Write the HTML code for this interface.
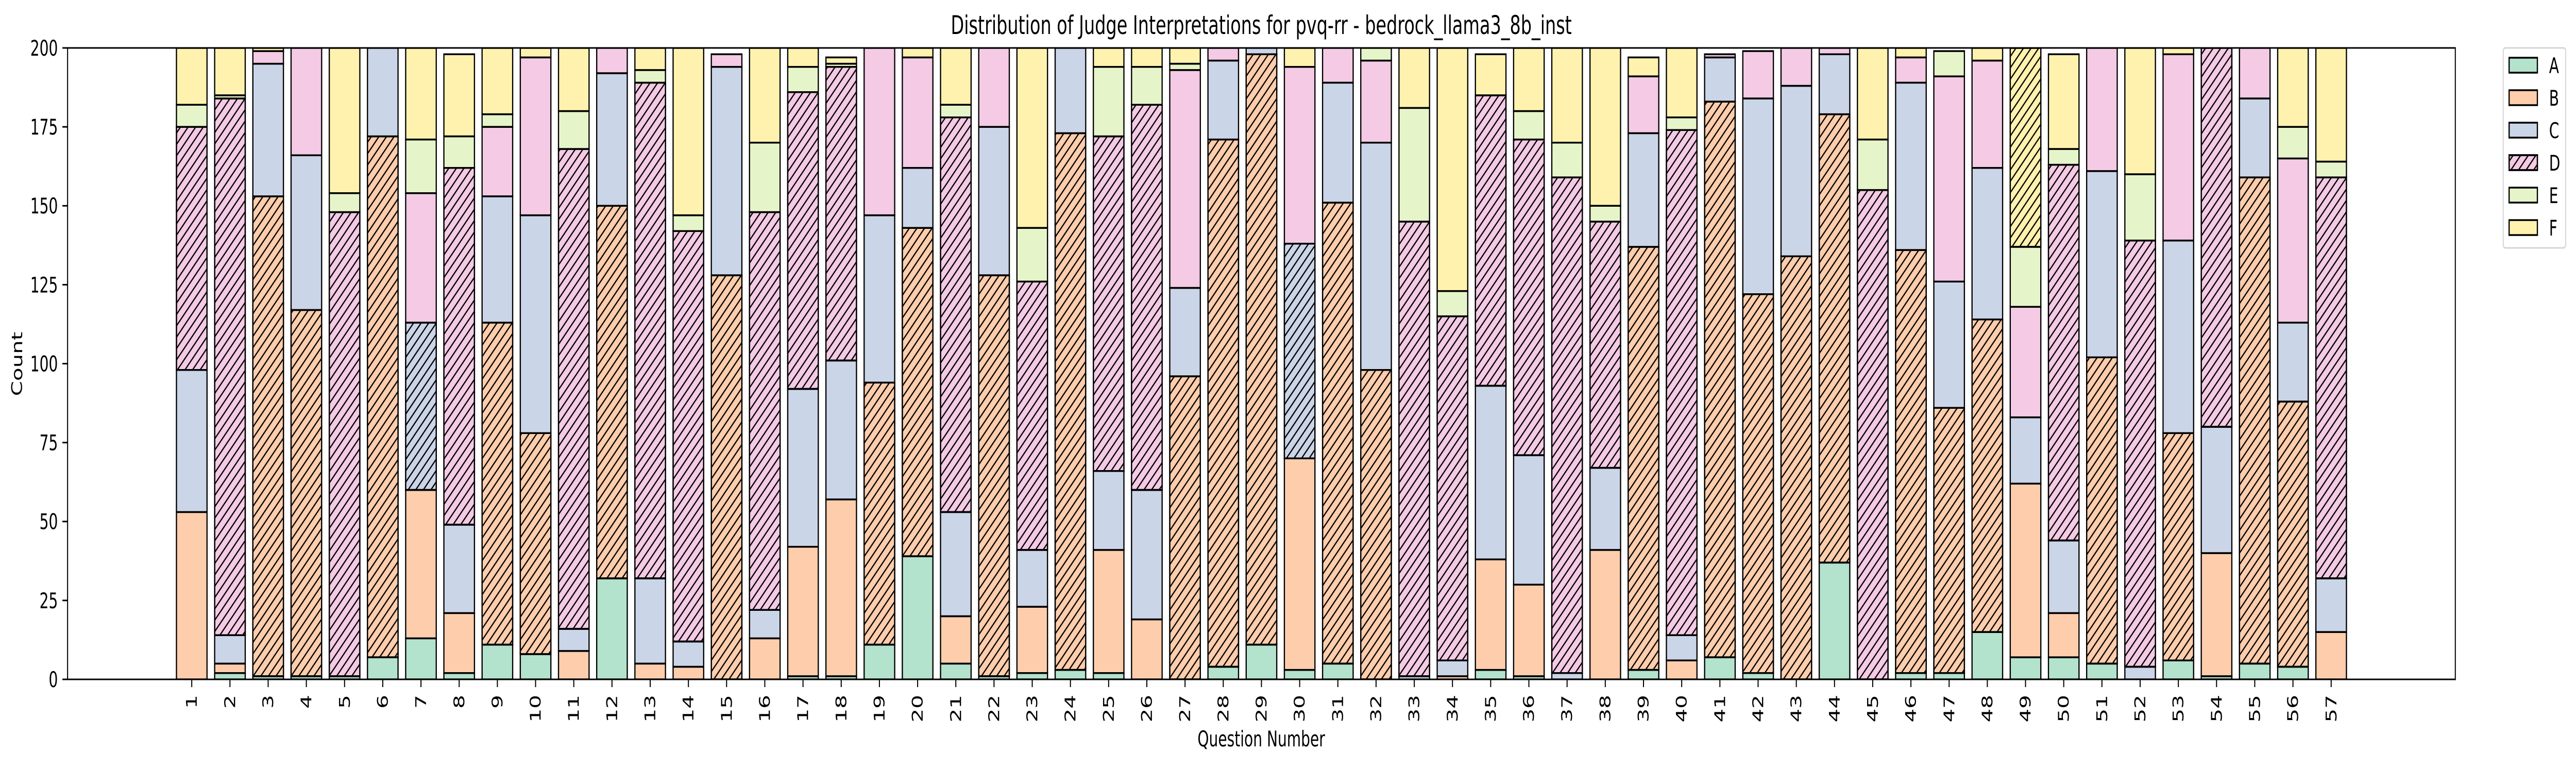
<!DOCTYPE html>
<html><head><meta charset="utf-8"><style>
html,body{margin:0;padding:0;background:#fff;overflow:hidden;width:100vw;height:100vh;}
svg{display:block;width:100vw;height:100vh;font-family:"DejaVu Sans","Liberation Sans",sans-serif;}
</style></head><body>
<svg id="chart" xmlns="http://www.w3.org/2000/svg" viewBox="0 0 7471 1488" preserveAspectRatio="none">
<defs>
<pattern id="hatch" patternUnits="userSpaceOnUse" width="22" height="22">
<path d="M-5.5,5.5 L5.5,-5.5 M0,22 L22,0 M16.5,27.5 L27.5,16.5" stroke="#000" stroke-width="3"/>
</pattern>
<clipPath id="plotclip"><rect x="196" y="93" width="6925" height="1225"/></clipPath>
</defs>
<rect x="0" y="0" width="7471" height="1488" fill="#fff"/>
<text x="3658" y="66" font-size="50" text-anchor="middle">Distribution of Judge Interpretations for pvq-rr - bedrock_llama3_8b_inst</text>
<g id="bars" clip-path="url(#plotclip)"></g>
<g id="axes"></g>
<rect x="196" y="93" width="6925" height="1225" fill="none" stroke="#000" stroke-width="3"/>
<text x="0" y="0" font-size="42" text-anchor="middle" transform="translate(64,706) rotate(-90)">Count</text>
<text x="3658" y="1448" font-size="42" text-anchor="middle">Question Number</text>
<g id="legend"></g>
</svg>
<script>
const categories = ["1","2","3","4","5","6","7","8","9","10","11","12","13","14","15","16","17","18","19","20","21","22","23","24","25","26","27","28","29","30","31","32","33","34","35","36","37","38","39","40","41","42","43","44","45","46","47","48","49","50","51","52","53","54","55","56","57"];
const seriesNames = ["A","B","C","D","E","F"];
const valsA = [0,2,1,1,1,7,13,2,11,8,0,32,0,0,0,0,1,1,11,39,5,1,2,3,2,0,0,4,11,3,5,0,0,0,3,1,0,0,3,0,7,2,0,37,0,2,2,15,7,7,5,0,6,1,5,4,0];
const valsB = [53,3,152,116,0,165,47,19,102,70,9,118,5,4,128,13,41,56,83,104,15,127,21,170,39,19,96,167,187,67,146,98,0,1,35,29,0,41,134,6,176,120,134,142,0,134,84,99,55,14,97,0,72,39,154,84,15];
const valsC = [45,9,42,49,0,28,53,28,40,69,7,42,27,8,66,9,50,44,53,19,33,47,18,27,25,41,28,25,2,68,38,72,1,5,55,41,2,26,36,8,14,62,54,19,0,53,40,48,21,23,59,4,61,40,25,25,17];
const valsD = [77,170,4,34,147,0,41,113,22,50,152,8,157,130,4,126,94,93,53,35,125,25,85,0,106,122,69,4,0,56,11,26,144,109,92,100,157,78,18,160,1,15,12,2,155,8,65,34,35,119,39,135,59,120,16,52,127];
const valsE = [7,1,0,0,6,0,17,10,4,0,12,0,4,5,0,22,8,1,0,0,4,0,17,0,22,12,2,0,0,0,0,4,36,8,0,9,11,5,0,4,0,0,0,0,16,0,8,0,19,5,0,21,0,0,0,10,5];
const valsF = [18,15,1,0,46,0,29,26,21,3,20,0,7,53,0,30,6,2,0,3,18,0,57,0,6,6,5,0,0,6,0,0,19,77,13,20,30,50,6,22,0,0,0,0,29,3,0,4,63,30,0,40,2,0,0,25,36];
const yTicks = [0,25,50,75,100,125,150,175,200];
const colors = ["#b3e2cd","#fdcdac","#cbd5e8","#f4cae4","#e6f5c9","#fff2ae"];

const NS = "http://www.w3.org/2000/svg";
const X0 = 196, X1 = 7121, Y0 = 1318, Y1 = 93;
const xMin = -3.25, xMax = categories.length - 1 + 3.25;
const yMin = 0, yMax = 200;
function xScale(i){ return X0 + (i - xMin) / (xMax - xMin) * (X1 - X0); }
function yScale(v){ return Y0 - (v - yMin) / (yMax - yMin) * (Y0 - Y1); }
const step = xScale(1) - xScale(0);
const barW = step * 0.8;

const series = [valsA, valsB, valsC, valsD, valsE, valsF];
const barsG = document.getElementById('bars');
const axesG = document.getElementById('axes');

for (let i = 0; i < categories.length; i++) {
  let maxIdx = 0;
  for (let s = 1; s < series.length; s++) if (series[s][i] > series[maxIdx][i]) maxIdx = s;
  let base = 0;
  const cx = xScale(i);
  for (let s = 0; s < series.length; s++) {
    const v = series[s][i];
    const yTop = yScale(base + v), yBot = yScale(base);
    const r = document.createElementNS(NS, 'rect');
    
    
    r.setAttribute('x', cx - barW / 2);
    r.setAttribute('y', yTop);
    r.setAttribute('width', barW);
    r.setAttribute('height', Math.max(0, yBot - yTop));
    r.setAttribute('fill', colors[s]);
    r.setAttribute('stroke', '#000');
    r.setAttribute('stroke-width', '3.5');
    barsG.appendChild(r);
    if (s === maxIdx && v > 0) {
      const h = document.createElementNS(NS, 'rect');
      
      
      h.setAttribute('x', cx - barW / 2);
      h.setAttribute('y', yTop);
      h.setAttribute('width', barW);
      h.setAttribute('height', yBot - yTop);
      h.setAttribute('fill', 'url(#hatch)');
      h.setAttribute('stroke', '#000');
      h.setAttribute('stroke-width', '3.5');
      barsG.appendChild(h);
    }
    base += v;
  }
  const t = document.createElementNS(NS, 'line');
  
  
  t.setAttribute('x1', cx); t.setAttribute('x2', cx);
  t.setAttribute('y1', Y0); t.setAttribute('y2', Y0 + 15);
  t.setAttribute('stroke', '#000'); t.setAttribute('stroke-width', '3');
  axesG.appendChild(t);
  const lb = document.createElementNS(NS, 'text');
  
  
  lb.setAttribute('font-size', '42');
  lb.setAttribute('text-anchor', 'end');
  lb.setAttribute('transform', 'translate(' + (cx + 15) + ',' + (Y0 + 30) + ') rotate(-90)');
  lb.textContent = categories[i];
  axesG.appendChild(lb);
}

yTicks.forEach(function (v) {
  const y = yScale(v);
  const t = document.createElementNS(NS, 'line');
  
  
  t.setAttribute('x1', X0 - 15); t.setAttribute('x2', X0);
  t.setAttribute('y1', y); t.setAttribute('y2', y);
  t.setAttribute('stroke', '#000'); t.setAttribute('stroke-width', '3');
  axesG.appendChild(t);
  const lb = document.createElementNS(NS, 'text');
  
  
  lb.setAttribute('x', X0 - 28);
  lb.setAttribute('y', y + 15);
  lb.setAttribute('font-size', '42');
  lb.setAttribute('text-anchor', 'end');
  lb.textContent = v;
  axesG.appendChild(lb);
});

const legG = document.getElementById('legend');
const box = document.createElementNS(NS, 'rect');


box.setAttribute('x', 7260); box.setAttribute('y', 93);
box.setAttribute('width', 181); box.setAttribute('height', 388);
box.setAttribute('rx', 6);
box.setAttribute('fill', '#fff'); box.setAttribute('stroke', '#d6d6d6'); box.setAttribute('stroke-width', '3');
legG.appendChild(box);
seriesNames.forEach(function (n, s) {
  const y = 112 + s * 63;
  const p = document.createElementNS(NS, 'rect');
  
  
  p.setAttribute('x', 7277); p.setAttribute('y', y);
  p.setAttribute('width', 82); p.setAttribute('height', 29);
  p.setAttribute('fill', colors[s]); p.setAttribute('stroke', '#000'); p.setAttribute('stroke-width', '3.5');
  legG.appendChild(p);
  if (n === 'D') {
    const h = document.createElementNS(NS, 'rect');
    
    
    h.setAttribute('x', 7277); h.setAttribute('y', y);
    h.setAttribute('width', 82); h.setAttribute('height', 29);
    h.setAttribute('fill', 'url(#hatch)'); h.setAttribute('stroke', '#000'); h.setAttribute('stroke-width', '3.5');
    legG.appendChild(h);
  }
  const t = document.createElementNS(NS, 'text');
  
  
  t.setAttribute('x', 7393); t.setAttribute('y', y + 30);
  t.setAttribute('font-size', '42');
  t.textContent = n;
  legG.appendChild(t);
});
</script>
</body></html>
